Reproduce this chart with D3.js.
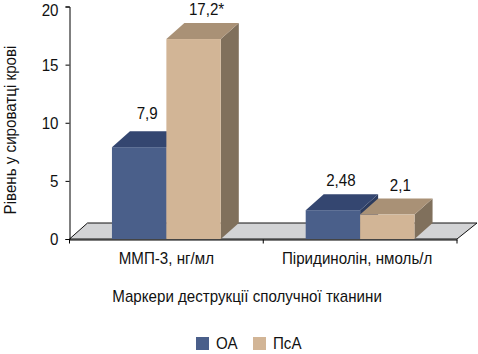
<!DOCTYPE html>
<html>
<head>
<meta charset="utf-8">
<script src="https://cdn.jsdelivr.net/npm/d3@7"></script>
<style>
html, body { margin: 0; padding: 0; background: #fff; }
text { font-family: "Liberation Sans", sans-serif; font-size: 17px; fill: #111; }
</style>
</head>
<body>
<div id="chart"></div>
<script>
/*DATA*/
const categories = ["ММП-3, нг/мл", "Піридинолін, нмоль/л"];
const seriesNames = ["ОА", "ПсА"];
const oaValues = [7.9, 2.48];
const psaValues = [17.2, 2.1];
const oaLabels = ["7,9", "2,48"];
const psaLabels = ["17,2*", "2,1"];
const yTicks = [0, 5, 10, 15, 20];

/*DIMENSIONS*/
const width = 478, height = 354;
const depth = {x: 18, y: 16};
const condense = 0.89; //the original type is a condensed face
const colors = {
	"ОА": {front: "#4a5f8a", top: "#344670", side: "#2c3b5e"},
	"ПсА": {front: "#d2b596", top: "#a99176", side: "#80705c"}
};

const svg = d3.select("#chart").append("svg")
	.attr("width", width)
	.attr("height", height)
	.style("display", "block");

/*SCALES*/
const x0 = d3.scaleBand().domain(categories).range([69.5, 457]);
const x1 = d3.scaleBand().domain(seriesNames).range([0, x0.bandwidth()]).paddingOuter(0.78);
const y = d3.scaleLinear().domain([0, 20]).range([239, 6.5]);

/*FLOOR*/
const floorPts = [
	[x0.range()[0], y(0)],
	[x0.range()[0] + depth.x, y(0) - depth.y],
	[x0.range()[1] + 20, y(0) - depth.y],
	[x0.range()[1], y(0)]
];
svg.append("polygon")
	.attr("points", floorPts.join(" "))
	.attr("fill", "#d2d3d5")
	.attr("stroke", "#111")
	.attr("stroke-width", 1);

/*BARS*/
const rows = [];
seriesNames.forEach(function(s, si){
	const vals = si === 0 ? oaValues : psaValues;
	const labs = si === 0 ? oaLabels : psaLabels;
	categories.forEach(function(c, ci){
		rows.push({cat: c, series: s, value: vals[ci], label: labs[ci]});
	});
});

const bars = svg.selectAll("g.bar")
	.data(rows)
	.enter()
	.append("g")
	.attr("class", "bar");

bars.append("polygon")
	.attr("fill", d => colors[d.series].side)
	.attr("points", function(d){
		const xr = x0(d.cat) + x1(d.series) + x1.bandwidth();
		return [[xr, y(d.value)], [xr + depth.x, y(d.value) - depth.y], [xr + depth.x, y(0) - depth.y], [xr, y(0)]].join(" ");
	});

bars.append("polygon")
	.attr("fill", d => colors[d.series].top)
	.attr("points", function(d){
		const xl = x0(d.cat) + x1(d.series), xr = xl + x1.bandwidth();
		return [[xl, y(d.value)], [xl + depth.x, y(d.value) - depth.y], [xr + depth.x, y(d.value) - depth.y], [xr, y(d.value)]].join(" ");
	});

bars.append("rect")
	.attr("x", d => x0(d.cat) + x1(d.series))
	.attr("y", d => y(d.value))
	.attr("width", x1.bandwidth())
	.attr("height", d => y(0) - y(d.value))
	.attr("fill", d => colors[d.series].front);

/*VALUE LABELS*/
svg.selectAll("text.val")
	.data(rows)
	.enter()
	.append("text")
	.attr("class", "val")
	.attr("x", d => x0(d.cat) + x1(d.series) + x1.bandwidth() / 2 + (d.series === "ОА" ? 8 : 13))
	.attr("y", d => y(d.value) - (d.value === 7.9 ? 28 : 24))
	.attr("text-anchor", "middle")
	.text(d => d.label);

/*AXES*/
const yAxis = svg.append("g")
	.attr("transform", "translate(69.5,0)")
	.call(d3.axisLeft(y).tickValues(yTicks).tickSize(4).tickPadding(7));
yAxis.attr("font-size", null).attr("font-family", null);
yAxis.selectAll("text")
	.attr("font-size", null)
	.attr("dy", d => d === 20 ? "0.52em" : "0.35em"); //top label sits lower so it isn't clipped

const xAxis = svg.append("g")
	.attr("transform", "translate(0,239.5)")
	.call(d3.axisBottom(x0).tickSize(0).tickPadding(12));
xAxis.attr("font-size", null).attr("font-family", null);
xAxis.selectAll("text").attr("dx", (d, i) => i === 1 ? -3 : 0);

// ticks sit on the band edges, not the centres
xAxis.selectAll("line.edge")
	.data(d3.range(categories.length + 1))
	.enter()
	.append("line")
	.attr("class", "edge")
	.attr("x1", i => x0.range()[0] + i * x0.step())
	.attr("x2", i => x0.range()[0] + i * x0.step())
	.attr("y1", 0)
	.attr("y2", 4)
	.attr("stroke", "#000");

/*TITLES*/
svg.append("text")
	.attr("transform", "translate(16,130) rotate(-90)")
	.attr("text-anchor", "middle")
	.text("Рівень у сироватці крові");

svg.append("text")
	.attr("x", 247)
	.attr("y", 302)
	.attr("text-anchor", "middle")
	.text("Маркери деструкції сполучної тканини");

/*LEGEND*/
const legend = d3.scaleOrdinal().domain(seriesNames).range([196, 253]);
const legendItems = svg.selectAll("g.legend")
	.data(seriesNames)
	.enter()
	.append("g")
	.attr("class", "legend")
	.attr("transform", d => "translate(" + legend(d) + ",337)");
legendItems.append("rect")
	.attr("width", 13)
	.attr("height", 13)
	.attr("fill", d => colors[d].front);
legendItems.append("text")
	.attr("x", 20)
	.attr("y", 12)
	.text(d => d);

/*CONDENSE ALL TEXT*/
svg.selectAll("text").each(function(){
	const len = this.getComputedTextLength();
	d3.select(this)
		.attr("textLength", len * condense)
		.attr("lengthAdjust", "spacingAndGlyphs");
});
</script>
</body>
</html>
